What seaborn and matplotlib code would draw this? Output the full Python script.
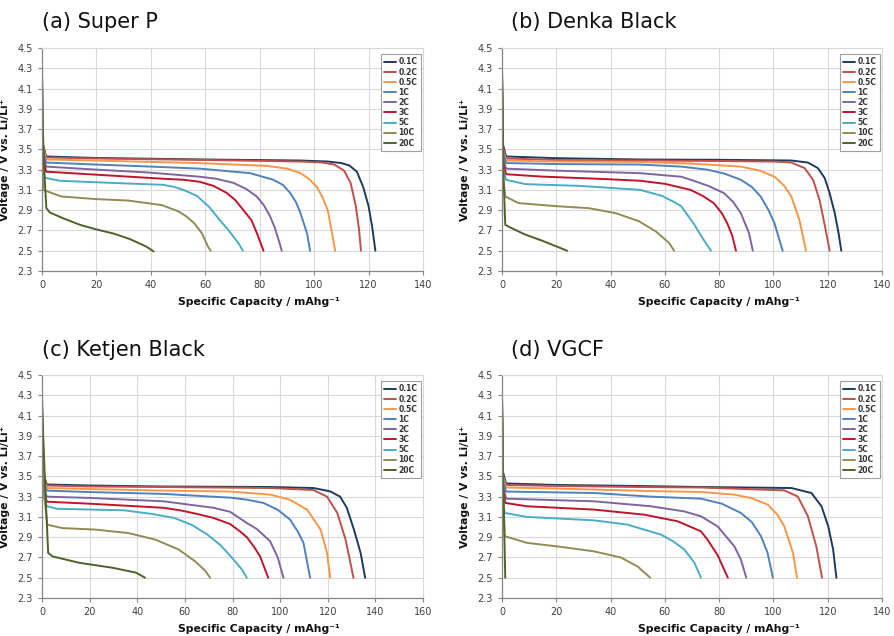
import matplotlib
matplotlib.use("Agg")
import matplotlib.pyplot as plt
from matplotlib.ticker import FormatStrFormatter
import seaborn as sns
import pandas as pd

rates = ["0.1C", "0.2C", "0.5C", "1C", "2C", "3C", "5C", "10C", "20C"]
colors = ["#1F3A5F", "#C0504D", "#F79646", "#4F81BD", "#8064A2",
          "#C0142B", "#4BACC6", "#948A54", "#4F6228"]
titles = ["(a) Super P", "(b) Denka Black", "(c) Ketjen Black", "(d) VGCF"]
x_max = [140, 140, 160, 140]
y_ticks = [2.3, 2.5, 2.7, 2.9, 3.1, 3.3, 3.5, 3.7, 3.9, 4.1, 4.3, 4.5]

# (a) Super P
a_cap = [
    [0, 0.3, 1.5, 20, 60, 95, 105, 110, 113, 115.7, 118, 120, 121.3, 122.5],
    [0, 0.3, 1.5, 20, 60, 95, 103, 107.4, 111, 113.4, 115.3, 116.5, 117.2],
    [0, 0.3, 1.5, 20, 58, 82.7, 90, 95, 98, 101, 103, 105, 106.6, 107.7],
    [0, 0.3, 1.5, 20, 40, 58, 76.5, 85, 88.5, 91.2, 93.3, 95, 97.4, 98.5],
    [0, 0.3, 1.5, 20, 40, 58, 64, 70.3, 75, 78.9, 81.5, 83.8, 85.5, 86.9, 88.1],
    [0, 0.3, 1.5, 20, 44.6, 52, 58, 63, 67.9, 71, 74, 77, 79, 81.4],
    [0, 0.3, 1, 6.6, 25, 44.6, 48.5, 52, 57, 61.5, 65.4, 68, 70.3, 72.3, 73.8],
    [0, 0.4, 7.2, 19.5, 31.7, 44, 50, 53, 56, 58.8, 61, 62],
    [0, 0.8, 1.6, 2.9, 7.8, 13.9, 20, 26.2, 32.3, 38.4, 41],
]
a_volt = [
    [4.05, 3.55, 3.43, 3.415, 3.40, 3.39, 3.38, 3.365, 3.34, 3.28, 3.13, 2.94, 2.74, 2.50],
    [4.00, 3.55, 3.42, 3.41, 3.395, 3.38, 3.37, 3.35, 3.29, 3.17, 2.94, 2.71, 2.50],
    [4.10, 3.52, 3.40, 3.39, 3.364, 3.337, 3.31, 3.265, 3.21, 3.13, 3.03, 2.90, 2.67, 2.50],
    [4.20, 3.50, 3.37, 3.35, 3.33, 3.31, 3.265, 3.20, 3.15, 3.07, 2.98, 2.87, 2.67, 2.50],
    [4.20, 3.45, 3.33, 3.30, 3.27, 3.23, 3.21, 3.17, 3.11, 3.035, 2.95, 2.84, 2.73, 2.61, 2.50],
    [4.25, 3.42, 3.28, 3.25, 3.21, 3.20, 3.18, 3.14, 3.07, 3.00, 2.90, 2.80, 2.67, 2.50],
    [4.30, 3.35, 3.22, 3.19, 3.17, 3.15, 3.13, 3.10, 3.04, 2.93, 2.80, 2.72, 2.64, 2.57, 2.50],
    [4.35, 3.10, 3.035, 3.01, 2.995, 2.95, 2.89, 2.84, 2.77, 2.67, 2.54, 2.50],
    [3.95, 3.30, 2.92, 2.877, 2.82, 2.756, 2.71, 2.67, 2.615, 2.54, 2.493],
]

# (b) Denka Black
b_cap = [
    [0, 0.3, 1.5, 20, 51, 80, 106.6, 112.7, 116.4, 118.9, 120.7, 122.6, 124, 125],
    [0, 0.3, 1.5, 20, 51, 80, 100, 106.6, 111.5, 114.6, 117, 119, 120.7],
    [0, 0.3, 1.5, 20, 51, 70, 88, 95, 100.4, 104, 106.6, 109.6, 112],
    [0, 0.3, 1.5, 20, 51, 66, 75.6, 82, 88, 92, 95.3, 98.2, 100.4, 103.4],
    [0, 0.3, 1.5, 20, 51, 66, 69.5, 76, 81.8, 85.2, 88, 91, 92.4],
    [0, 0.3, 1.5, 14.2, 38.8, 51, 60, 69.5, 74, 78, 81, 83, 84.8, 86.2],
    [0, 0.3, 1.5, 8.6, 28.3, 46.8, 51, 59, 63.4, 66, 70.8, 74, 77],
    [0, 0.5, 1.2, 6.1, 19.7, 32, 42, 50.5, 56.7, 61.6, 63.4],
    [0, 0.6, 1.2, 3, 8.5, 14.7, 24],
]
b_volt = [
    [4.10, 3.55, 3.43, 3.413, 3.40, 3.397, 3.39, 3.37, 3.315, 3.216, 3.068, 2.87, 2.674, 2.50],
    [4.05, 3.52, 3.41, 3.395, 3.39, 3.385, 3.38, 3.37, 3.315, 3.20, 3.00, 2.74, 2.50],
    [4.10, 3.50, 3.39, 3.38, 3.375, 3.36, 3.33, 3.29, 3.23, 3.14, 3.035, 2.80, 2.50],
    [4.20, 3.48, 3.365, 3.355, 3.35, 3.33, 3.30, 3.26, 3.20, 3.13, 3.035, 2.90, 2.77, 2.50],
    [4.20, 3.42, 3.31, 3.29, 3.265, 3.23, 3.20, 3.14, 3.068, 2.98, 2.87, 2.674, 2.50],
    [4.25, 3.38, 3.255, 3.232, 3.206, 3.19, 3.16, 3.10, 3.04, 2.97, 2.87, 2.77, 2.65, 2.50],
    [4.30, 3.32, 3.20, 3.157, 3.14, 3.108, 3.10, 3.04, 2.98, 2.94, 2.76, 2.62, 2.50],
    [4.30, 3.20, 3.035, 2.97, 2.94, 2.92, 2.87, 2.79, 2.69, 2.576, 2.50],
    [4.30, 3.20, 2.756, 2.73, 2.66, 2.60, 2.50],
]

# (c) Ketjen Black
c_cap = [
    [0, 0.3, 2, 20, 50, 96, 114, 121, 125.2, 128, 131, 133.8, 135.7],
    [0, 0.3, 2, 20, 50, 96, 114, 119.7, 124, 127.5, 130.8],
    [0, 0.3, 2, 20, 50, 79, 96, 104, 111.4, 117, 119.7, 121],
    [0, 0.3, 2, 20, 51, 79, 86, 93, 99, 104.2, 107.3, 109.8, 112.6],
    [0, 0.3, 2, 20.3, 51, 72, 79, 86, 90.3, 95.8, 99, 101.4],
    [0, 0.3, 2, 20.3, 51, 58, 65, 72, 79, 83, 86, 88.9, 91.6, 95],
    [0, 0.3, 2, 6.4, 34.5, 46, 55.5, 63, 69.5, 75, 79.3, 84, 86],
    [0, 1, 2.2, 8.4, 22.4, 36.4, 47.6, 57.4, 64.4, 68.5, 70.6],
    [0, 1.5, 2.6, 4.5, 15.7, 29.7, 39.5, 43.3],
]
c_volt = [
    [4.10, 3.55, 3.42, 3.41, 3.40, 3.395, 3.385, 3.352, 3.30, 3.19, 2.975, 2.745, 2.50],
    [4.05, 3.52, 3.41, 3.40, 3.395, 3.385, 3.365, 3.30, 3.14, 2.876, 2.50],
    [4.10, 3.50, 3.385, 3.375, 3.36, 3.35, 3.32, 3.27, 3.17, 2.975, 2.745, 2.50],
    [4.20, 3.48, 3.36, 3.345, 3.327, 3.29, 3.27, 3.238, 3.17, 3.073, 2.96, 2.845, 2.50],
    [4.20, 3.42, 3.30, 3.287, 3.254, 3.19, 3.15, 3.04, 2.98, 2.86, 2.70, 2.50],
    [4.25, 3.38, 3.25, 3.23, 3.19, 3.165, 3.13, 3.09, 3.03, 2.96, 2.90, 2.81, 2.71, 2.50],
    [4.30, 3.33, 3.205, 3.18, 3.165, 3.13, 3.09, 3.02, 2.925, 2.82, 2.71, 2.58, 2.50],
    [4.30, 3.30, 3.024, 2.99, 2.975, 2.94, 2.876, 2.778, 2.66, 2.57, 2.50],
    [4.20, 3.30, 2.745, 2.71, 2.647, 2.598, 2.55, 2.50],
]

# (d) VGCF
d_cap = [
    [0, 0.3, 1.5, 20, 50, 73.3, 106.6, 114, 117.7, 120.2, 122, 123.2],
    [0, 0.3, 1.5, 20, 50, 73.3, 104, 109, 112.7, 115.8, 117.9],
    [0, 0.3, 1.5, 20, 54.8, 73.3, 85.6, 92, 98, 101.5, 104, 107.2, 108.7],
    [0, 0.3, 1.5, 33.9, 54.8, 73.3, 81, 88, 92, 95.4, 97.8, 99.8],
    [0, 0.3, 1.5, 33.9, 54.8, 67, 73.3, 79.4, 85.6, 88, 90],
    [0, 0.3, 1.2, 9.2, 33.9, 52.4, 64.7, 73.3, 75.7, 79.5, 83.2],
    [0, 0.3, 1, 9.2, 33.9, 46.2, 58.6, 63, 67.2, 70.9, 73.3],
    [0, 0.5, 1, 9.2, 21.6, 33.9, 43.8, 50, 54.6],
    [0, 0.3, 0.8, 1.2],
]
d_volt = [
    [4.10, 3.55, 3.43, 3.415, 3.405, 3.395, 3.385, 3.336, 3.205, 3.007, 2.778, 2.50],
    [4.05, 3.52, 3.415, 3.405, 3.395, 3.39, 3.362, 3.30, 3.106, 2.81, 2.50],
    [4.10, 3.50, 3.39, 3.38, 3.355, 3.346, 3.32, 3.285, 3.22, 3.12, 3.007, 2.745, 2.50],
    [4.20, 3.47, 3.35, 3.336, 3.30, 3.28, 3.23, 3.139, 3.05, 2.91, 2.75, 2.50],
    [4.20, 3.42, 3.28, 3.254, 3.205, 3.155, 3.106, 3.007, 2.81, 2.68, 2.50],
    [4.25, 3.40, 3.238, 3.205, 3.172, 3.122, 3.057, 2.958, 2.876, 2.72, 2.50],
    [4.30, 3.30, 3.139, 3.10, 3.066, 3.024, 2.925, 2.86, 2.778, 2.647, 2.50],
    [4.30, 3.30, 2.91, 2.844, 2.805, 2.76, 2.70, 2.61, 2.50],
    [4.30, 3.60, 3.00, 2.50],
]

panels = [(a_cap, a_volt), (b_cap, b_volt), (c_cap, c_volt), (d_cap, d_volt)]

sns.set_style("white")
plt.rcParams['font.family'] = ['DejaVu Sans']

W, H = 894, 636
fig = plt.figure(figsize=(W / 100, H / 100), dpi=100)

# axes boxes in pixels: left, top, right, bottom
boxes = [(42, 48, 423, 271), (502, 48, 882, 271),
         (42, 375, 423, 598), (502, 375, 882, 598)]
title_pos = [(42, 22), (511, 22), (42, 350), (511, 350)]

grid_c = "#D9D9D9"
tick_c = "#404040"

for i, (caps, volts) in enumerate(panels):
    l, t, r, b = boxes[i]
    ax = fig.add_axes([l / W, 1 - b / H, (r - l) / W, (b - t) / H])
    rows = []
    for k, rate in enumerate(rates):
        for xv, yv in zip(caps[k], volts[k]):
            rows.append({"cap": xv, "volt": yv, "rate": rate})
    df = pd.DataFrame(rows)
    sns.lineplot(data=df, x="cap", y="volt", hue="rate", hue_order=rates,
                 palette=colors, estimator=None, sort=False, linewidth=1.4,
                 ax=ax, legend=True)
    ax.set_xlim(0, x_max[i])
    ax.set_ylim(2.3, 4.5)
    ax.set_xticks(list(range(0, x_max[i] + 1, 20)))
    ax.set_yticks(y_ticks)
    ax.yaxis.set_major_formatter(FormatStrFormatter('%.1f'))
    ax.grid(True, color=grid_c, linewidth=0.8)
    ax.set_axisbelow(True)
    for s in ["top", "right"]:
        ax.spines[s].set_color(grid_c)
        ax.spines[s].set_linewidth(0.8)
    for s in ["left", "bottom"]:
        ax.spines[s].set_color("#868686")
        ax.spines[s].set_linewidth(0.9)
    ax.tick_params(axis="both", which="major", labelsize=7, colors="#868686",
                   labelcolor=tick_c, length=3, width=0.8, direction="out",
                   left=True, bottom=True)
    ax.set_xlabel("Specific Capacity / mAhg\u207b\u00b9", fontsize=7.8,
                  fontweight="bold", color="#111111")
    ax.xaxis.set_label_coords(0.57, -0.115)
    ax.set_ylabel("Voltage / V vs. Li/Li\u207a", fontsize=7.8,
                  fontweight="bold", color="#111111")
    ax.yaxis.set_label_coords(-0.083, 0.5)
    handles, labels = ax.get_legend_handles_labels()
    leg = ax.legend(handles, labels, loc="upper right",
                    bbox_to_anchor=(1 - 2 / (r - l), 1 - 6 / (b - t)),
                    fontsize=5.5, frameon=True, fancybox=False,
                    edgecolor="#A0A0A0", framealpha=1, handlelength=1.6,
                    handletextpad=0.3, labelspacing=0.15, borderpad=0.45,
                    borderaxespad=0)
    leg.get_frame().set_linewidth(0.8)
    for txt in leg.get_texts():
        txt.set_fontweight("bold")
        txt.set_color("#333333")
    tx, ty = title_pos[i]
    fig.text(tx / W, 1 - ty / H, titles[i], fontsize=15, ha="left",
             va="center", color="#111111")

fig.savefig("out.png", dpi=100)
